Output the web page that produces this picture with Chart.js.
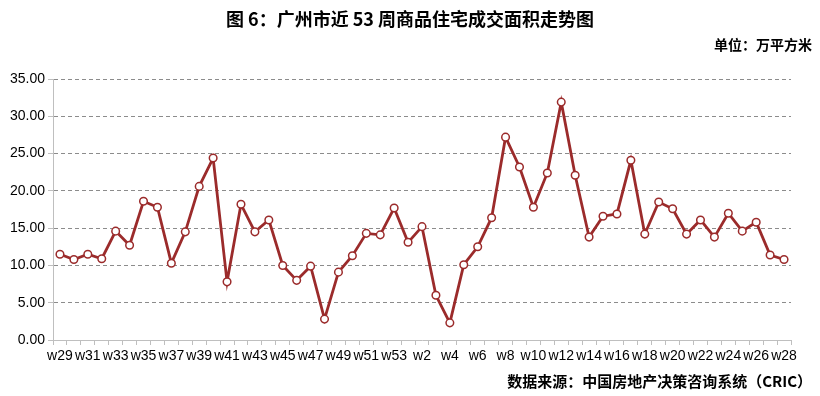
<!DOCTYPE html>
<html>
<head>
<meta charset="utf-8">
<script src="https://cdn.jsdelivr.net/npm/chart.js@4/dist/chart.umd.min.js"></script>
<style>
  body { margin: 0; background: #fff; }
  .wrap { position: relative; width: 820px; height: 396px; font-family: "Noto Sans CJK SC", sans-serif; }
  .title { position: absolute; top: 5px; left: 0; width: 820px; text-align: center; font-size: 18px; font-weight: bold; color: #000; }
  .unit { position: absolute; top: 34px; right: 8px; font-size: 14px; font-weight: bold; color: #000; }
  .source { position: absolute; top: 370px; right: 8px; font-size: 15px; font-weight: bold; color: #000; }
  #area-chart { position: absolute; left: 0; top: 0; }
</style>
</head>
<body>
<div class="wrap">
  <canvas id="area-chart" width="820" height="396"></canvas>
  <div class="title">图 6：广州市近 53 周商品住宅成交面积走势图</div>
  <div class="unit">单位：万平方米</div>
  <div class="source">数据来源：中国房地产决策咨询系统（CRIC）</div>
</div>
<script>
const weeks = ['w29','w30','w31','w32','w33','w34','w35','w36','w37','w38','w39','w40','w41','w42','w43','w44','w45','w46','w47','w48','w49','w50','w51','w52','w53',
  'w1','w2','w3','w4','w5','w6','w7','w8','w9','w10','w11','w12','w13','w14','w15','w16','w17','w18','w19','w20','w21','w22','w23','w24','w25','w26','w27','w28'];

const area = [11.5, 10.8, 11.5, 10.9, 14.6, 12.7, 18.6, 17.8, 10.3, 14.5, 20.6, 24.4, 7.8, 18.2, 14.5, 16.1, 10.0, 8.0, 9.9, 2.8, 9.1, 11.3, 14.3, 14.1, 17.7,
  13.1, 15.2, 6.0, 2.3, 10.1, 12.5, 16.4, 27.2, 23.2, 17.8, 22.4, 31.9, 22.1, 13.8, 16.6, 16.9, 24.1, 14.2, 18.5, 17.6, 14.2, 16.1, 13.8, 17.0, 14.6, 15.8, 11.4, 10.8];

const yTicks = [0, 5, 10, 15, 20, 25, 30, 35];

const ctx = document.getElementById('area-chart');

const chart = new Chart(ctx, {
  type: 'line',
  data: {
    labels: weeks,
    datasets: [{
      label: '成交面积',
      data: area,
      borderColor: '#9b2b2b',
      borderWidth: 2.8,
      pointBackgroundColor: '#ffffff',
      pointBorderColor: '#9b2b2b',
      pointBorderWidth: 1.5,
      pointRadius: 3.8,
      tension: 0,
      fill: false
    }]
  },
  options: {
    responsive: false,
    animation: false,
    layout: {
      padding: { left: 0, right: 29, top: 79, bottom: 0 }
    },
    plugins: {
      legend: { display: false },
      tooltip: { enabled: false }
    },
    scales: {
      x: {
        offset: true,
        grid: {
          offset: true,
          drawOnChartArea: false,
          tickLength: 5,
          color: '#bfbfbf'
        },
        border: { color: '#bfbfbf' },
        ticks: {
          autoSkip: false,
          maxRotation: 0,
          padding: 3,
          color: '#000',
          font: { family: 'Liberation Sans', size: 14 },
          callback: function (val, i) {
            return i % 2 === 0 ? weeks[i] : '';
          }
        },
        afterFit: function (scale) { scale.height = 56; }
      },
      y: {
        min: 0,
        max: 35,
        afterBuildTicks: function (scale) {
          scale.ticks = yTicks.map(v => ({ value: v }));
        },
        grid: {
          color: function (c) { return c.tick.value === 0 ? 'rgba(0,0,0,0)' : '#8c8c8c'; },
          tickLength: 5,
          tickColor: '#bfbfbf'
        },
        border: { color: '#bfbfbf', dash: [4, 3] },
        ticks: {
          padding: 3,
          color: '#000',
          font: { family: 'Liberation Sans', size: 14 },
          callback: function (v) { return v.toFixed(2); }
        },
        afterFit: function (scale) { scale.width = 53; }
      }
    }
  }
});
</script>
</body>
</html>
